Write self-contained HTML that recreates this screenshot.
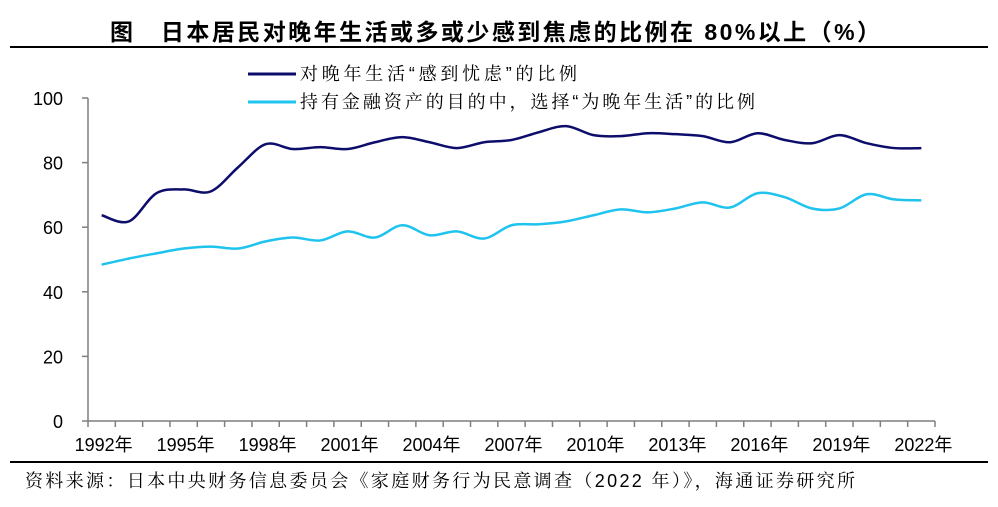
<!DOCTYPE html>
<html><head><meta charset="utf-8">
<style>
body{margin:0;background:#fff;width:998px;height:502px;overflow:hidden;font-family:"Liberation Sans","Noto Sans CJK SC",sans-serif;}
</style></head><body>
<svg width="998" height="502" xmlns="http://www.w3.org/2000/svg">
<text x="110" y="40" textLength="770" lengthAdjust="spacing" font-size="23" font-weight="bold" font-family="Liberation Sans, Noto Sans CJK SC, sans-serif">图　日本居民对晚年生活或多或少感到焦虑的比例在 80%以上（%）</text>
<line x1="10" y1="47" x2="988" y2="47" stroke="#000" stroke-width="2"/>
<g>
<line x1="248" y1="74" x2="296" y2="74" stroke="#0d0d6b" stroke-width="3"/>
<text x="300" y="80" textLength="277" lengthAdjust="spacing" font-size="18" font-family="Liberation Sans, Noto Serif CJK SC, sans-serif">对晚年生活“感到忧虑”的比例</text>
<line x1="248" y1="102" x2="296" y2="102" stroke="#1ec3ee" stroke-width="3"/>
<text x="300" y="108" textLength="455" lengthAdjust="spacing" font-size="18" font-family="Liberation Sans, Noto Serif CJK SC, sans-serif">持有金融资产的目的中，选择“为晚年生活”的比例</text>
</g>
<g id="axes"></g>
<g id="series"></g>
<line x1="10" y1="462" x2="988" y2="462" stroke="#000" stroke-width="2"/>
<text x="25" y="487" textLength="830" lengthAdjust="spacing" font-size="18" font-family="Liberation Sans, Noto Serif CJK SC, sans-serif">资料来源：日本中央财务信息委员会《家庭财务行为民意调查（2022 年）》，海通证券研究所</text>
</svg>
<script>
const years=[1992,1993,1994,1995,1996,1997,1998,1999,2000,2001,2002,2003,2004,2005,2006,2007,2008,2009,2010,2011,2012,2013,2014,2015,2016,2017,2018,2019,2020,2021,2022];
const anxious=[63.7,61.8,70.5,71.7,71.1,78.6,85.7,84.2,84.8,84.2,86.3,87.9,86.3,84.5,86.3,87,89.4,91.3,88.5,88.2,89.1,88.8,88.2,86.3,89.1,87,86,88.5,86,84.5,84.5];
const retirement=[48.4,50.3,51.9,53.4,54,53.4,55.6,56.8,55.9,58.7,56.8,60.6,57.5,58.7,56.5,60.6,60.9,61.8,63.7,65.5,64.6,65.8,67.7,66.1,70.5,69.3,65.8,65.8,70.2,68.6,68.3];
const yTicks=[0,20,40,60,80,100];
const xLabelYears=[1992,1995,1998,2001,2004,2007,2010,2013,2016,2019,2022];
const NS="http://www.w3.org/2000/svg";
const x0=88,x1=935,yb=421,yt=98;
const step=(x1-x0)/years.length;
function xs(i){return x0+step*(i+0.5);}
function ys(v){return yb-(v/100)*(yb-yt);}
function mk(tag,attrs,parent){const e=document.createElementNS(NS,tag);for(const k in attrs)e.setAttribute(k,attrs[k]);parent.appendChild(e);return e;}
const ax=document.getElementById('axes');
let l=mk('line',{x1:x0,y1:yt,x2:x0,y2:yb,stroke:'#7f7f7f','stroke-width':1.5},ax);


l=mk('line',{x1:x0,y1:yb,x2:x1,y2:yb,stroke:'#7f7f7f','stroke-width':1.5},ax);


yTicks.forEach(v=>{
 const t=mk('line',{x1:x0-6,y1:ys(v),x2:x0,y2:ys(v),stroke:'#7f7f7f','stroke-width':1.5},ax);
 
 
 const tx=mk('text',{x:x0-25,y:ys(v)+7,'text-anchor':'end','font-size':18,'font-family':'Liberation Sans, sans-serif'},ax);
 tx.textContent=v;
 
 
});
for(let i=0;i<=years.length;i++){
 const t=mk('line',{x1:x0+step*i,y1:yb,x2:x0+step*i,y2:yb+6,stroke:'#7f7f7f','stroke-width':1.5},ax);
 
 
}
xLabelYears.forEach(yr=>{
 const i=years.indexOf(yr);
 const tx=mk('text',{x:xs(i)+2,y:yb+30,'text-anchor':'middle','font-size':18,'font-family':'Liberation Sans, Noto Sans CJK SC, sans-serif'},ax);
 tx.textContent=yr+'年';
 
 
});
function smooth(vals){
 const p=vals.map((v,i)=>[xs(i),ys(v)]);
 let d='M'+p[0][0]+','+p[0][1];
 for(let i=0;i<p.length-1;i++){
  const a=p[Math.max(0,i-1)],b=p[i],c=p[i+1],e=p[Math.min(p.length-1,i+2)];
  const c1=[b[0]+(c[0]-a[0])/6,b[1]+(c[1]-a[1])/6],c2=[c[0]-(e[0]-b[0])/6,c[1]-(e[1]-b[1])/6];
  d+=' C'+c1[0]+','+c1[1]+' '+c2[0]+','+c2[1]+' '+c[0]+','+c[1];
 }
 return d;
}
const sg=document.getElementById('series');
let s=mk('path',{d:smooth(anxious),fill:'none',stroke:'#0d0d6b','stroke-width':2.5},sg);


s=mk('path',{d:smooth(retirement),fill:'none',stroke:'#1ec3ee','stroke-width':2.5},sg);


</script>
</body></html>
